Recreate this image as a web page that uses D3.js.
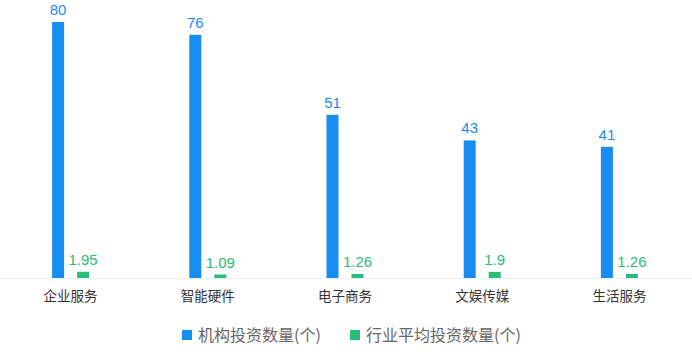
<!DOCTYPE html>
<html><head><meta charset="utf-8">
<script src="https://cdn.jsdelivr.net/npm/d3@7"></script>
<style>body{margin:0;background:#fff}svg{display:block}text{font-family:"Noto Sans CJK SC","Noto Sans",sans-serif}text.val{font-family:"Liberation Sans",Arial,sans-serif}</style>
</head><body><svg id="c" width="692" height="357"></svg>
<script>
const categories = ["企业服务","智能硬件","电子商务","文娱传媒","生活服务"];
const seriesNames = ["机构投资数量(个)","行业平均投资数量(个)"];
const orgCounts = [80,76,51,43,41];
const avgCounts = [1.95,1.09,1.26,1.9,1.26];
const colors = ["#188df0","#2bbb7a"];

const svg = d3.select("#c");
const baseY = 278;
const x = d3.scaleBand().domain(categories).range([2,688]);
const y = d3.scaleLinear().domain([0,80]).range([baseY,22]);
const barW = 12, off = 12.5;

svg.append("line").attr("x1",0).attr("x2",692).attr("y1",baseY+0.5).attr("y2",baseY+0.5).attr("stroke","#eeeeee");

const series = [orgCounts, avgCounts];
series.forEach((vals,si)=>{
  const dx = si===0 ? -off : off;
  const g = svg.append("g");
  g.selectAll("rect").data(vals).join("rect")
    .attr("x",(d,i)=>x(categories[i])+x.bandwidth()/2+dx-barW/2)
    .attr("y",d=>y(d)).attr("width",barW).attr("height",d=>baseY-y(d))
    .attr("fill",colors[si]);
  g.selectAll("text").data(vals).join("text").attr("class","val")
    .attr("x",(d,i)=>x(categories[i])+x.bandwidth()/2+dx)
    .attr("y",d=>y(d)-7).attr("text-anchor","middle")
    .attr("font-size",15).attr("fill",colors[si]).text(d=>d);
});

svg.append("g").selectAll("text").data(categories).join("text")
  .attr("x",d=>x(d)+x.bandwidth()/2).attr("y",300.5).attr("text-anchor","middle")
  .attr("font-size",13.5).attr("fill","#333").text(d=>d);

const legX = [182,350];
seriesNames.forEach((n,i)=>{
  svg.append("rect").attr("x",legX[i]).attr("y",330).attr("width",10).attr("height",10).attr("fill",colors[i]);
  svg.append("text").attr("x",legX[i]+16).attr("y",341).attr("font-size",16).attr("fill","#666").text(n);
});
</script></body></html>
